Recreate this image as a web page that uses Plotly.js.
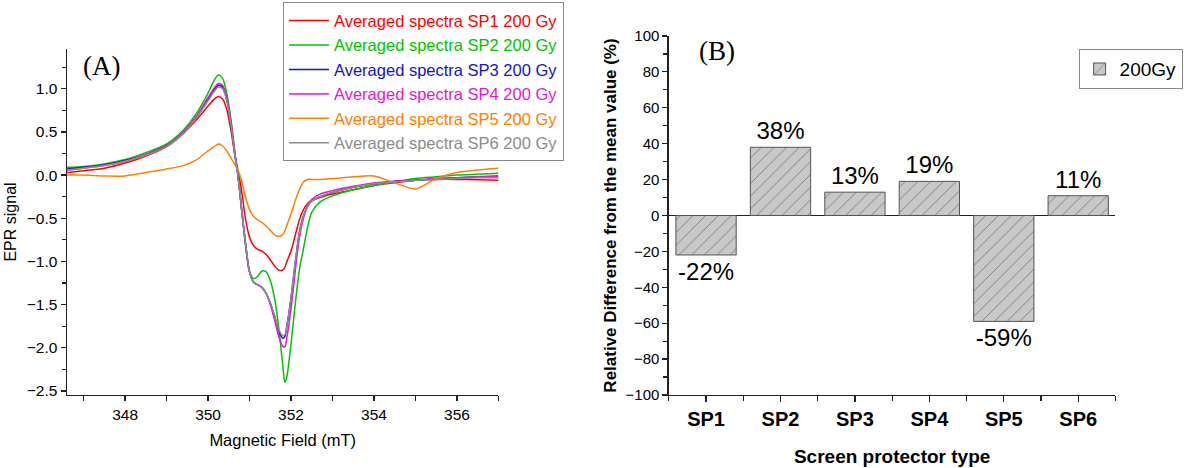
<!DOCTYPE html>
<html>
<head>
<meta charset="utf-8">
<script src="https://cdn.plot.ly/plotly-3.0.1.min.js"></script>
<style>html,body{margin:0;padding:0;background:#fff;}#chart{width:1184px;height:468px;}</style>
</head>
<body>
<div id="chart"></div>
<script>
// ---- Panel A data: EPR spectra (magnetic field in mT) ----
const field = [346.6, 347.0, 347.5, 348.0, 348.5, 349.0, 349.4, 349.7, 350.0, 350.15, 350.25, 350.35, 350.45, 350.55, 350.65, 350.72, 350.8, 350.9, 351.0, 351.1, 351.2, 351.3, 351.4, 351.5, 351.6, 351.7, 351.8, 351.85, 351.9, 352.0, 352.1, 352.2, 352.3, 352.4, 352.5, 352.7, 353.0, 353.5, 354.0, 354.5, 355.0, 355.5, 356.0, 356.5, 357.0];
const sp1 = [0.03,0.05,0.08,0.14,0.22,0.33,0.48,0.63,0.8,0.88,0.91,0.88,0.76,0.52,0.22,0.05,-0.15,-0.5,-0.72,-0.82,-0.86,-0.88,-0.92,-0.98,-1.05,-1.1,-1.1,-1.07,-1.0,-0.88,-0.7,-0.52,-0.4,-0.33,-0.29,-0.26,-0.22,-0.17,-0.12,-0.09,-0.06,-0.05,-0.05,-0.055,-0.06];
const sp2 = [0.09,0.1,0.13,0.18,0.26,0.36,0.52,0.7,0.95,1.1,1.16,1.12,0.95,0.65,0.25,0.0,-0.37,-0.8,-1.12,-1.2,-1.17,-1.11,-1.12,-1.22,-1.42,-1.75,-2.2,-2.4,-2.33,-1.95,-1.5,-1.1,-0.85,-0.6,-0.43,-0.31,-0.24,-0.17,-0.12,-0.08,-0.04,-0.02,0.0,0.01,0.02];
const sp3 = [0.07,0.09,0.12,0.17,0.24,0.34,0.49,0.66,0.88,0.99,1.04,1.02,0.88,0.6,0.22,0.0,-0.35,-0.78,-1.12,-1.24,-1.27,-1.3,-1.37,-1.48,-1.63,-1.8,-1.89,-1.87,-1.75,-1.42,-1.02,-0.67,-0.47,-0.36,-0.3,-0.25,-0.2,-0.14,-0.1,-0.07,-0.06,-0.04,-0.03,-0.02,-0.01];
const sp4 = [0.06,0.08,0.11,0.16,0.24,0.34,0.5,0.67,0.9,1.01,1.06,1.04,0.9,0.62,0.24,0.0,-0.35,-0.78,-1.12,-1.24,-1.27,-1.3,-1.37,-1.5,-1.67,-1.86,-1.98,-1.99,-1.88,-1.55,-1.12,-0.73,-0.5,-0.36,-0.28,-0.22,-0.18,-0.13,-0.09,-0.07,-0.06,-0.04,-0.03,-0.02,-0.02];
const sp5 = [0.0,0.0,-0.01,-0.01,0.03,0.07,0.11,0.17,0.28,0.33,0.36,0.34,0.28,0.2,0.12,0.06,-0.05,-0.25,-0.4,-0.48,-0.52,-0.55,-0.59,-0.64,-0.69,-0.71,-0.69,-0.65,-0.58,-0.45,-0.3,-0.17,-0.08,-0.05,-0.05,-0.05,-0.04,-0.02,-0.01,-0.09,-0.16,-0.04,0.03,0.06,0.08];
const sp6 = [0.06,0.08,0.11,0.16,0.23,0.33,0.48,0.65,0.86,0.97,1.02,1.0,0.86,0.59,0.22,0.0,-0.35,-0.78,-1.12,-1.24,-1.27,-1.3,-1.37,-1.48,-1.62,-1.78,-1.86,-1.85,-1.74,-1.42,-1.02,-0.67,-0.47,-0.36,-0.3,-0.25,-0.2,-0.14,-0.1,-0.08,-0.06,-0.05,-0.04,-0.03,-0.03];
const seriesNames = ['Averaged spectra SP1 200 Gy','Averaged spectra SP2 200 Gy','Averaged spectra SP3 200 Gy','Averaged spectra SP4 200 Gy','Averaged spectra SP5 200 Gy','Averaged spectra SP6 200 Gy'];
const seriesColors = ['#ff0000','#00c400','#1414c8','#e01ad0','#ff8000','#8c8c8c'];

// ---- Panel B data: relative difference from mean (%) ----
const protectors = ['SP1','SP2','SP3','SP4','SP5','SP6'];
const relDiff = [-22, 38, 13, 19, -59, 11];
const barLabels = relDiff.map(v => v + '%');

const FONT = 'Liberation Sans, Arial, sans-serif';
const spectra = [sp1, sp2, sp3, sp4, sp5, sp6];
const traces = spectra.map((ys, i) => ({
  type: 'scatter', mode: 'lines', x: field, y: ys,
  xaxis: 'x', yaxis: 'y',
  name: '<span style="color:' + seriesColors[i] + '">' + seriesNames[i] + '</span>',
  line: {color: seriesColors[i], width: 1.5, shape: 'spline', smoothing: 0.8},
  hoverinfo: 'skip'
}));

traces.push({
  type: 'bar', x: protectors, y: relDiff, xaxis: 'x2', yaxis: 'y2',
  name: '200Gy', legend: 'legend2',
  text: barLabels, textposition: 'outside', constraintext: 'none', cliponaxis: false,
  textfont: {family: FONT, size: 24, color: '#000'},
  marker: {color: '#c8c8c8', line: {color: '#555', width: 1},
    pattern: {shape: '/', fgcolor: '#7a7a7a', bgcolor: '#c8c8c8', size: 9, solidity: 0.1, fillmode: 'replace'}},
  hoverinfo: 'skip'
});
// helper trace carrying the categories for the boundary tick axis
traces.push({
  type: 'scatter', mode: 'markers', x: protectors, y: protectors.map(() => null),
  xaxis: 'x3', yaxis: 'y2', showlegend: false, hoverinfo: 'skip'
});

const axisCommon = {showline: true, linecolor: '#222', linewidth: 1.5, ticks: 'outside', ticklen: 5, tickwidth: 1.2, tickcolor: '#222', showgrid: false, zeroline: false};

const layout = {
  width: 1184, height: 468,
  margin: {l: 0, r: 0, t: 0, b: 0},
  paper_bgcolor: '#fff', plot_bgcolor: '#fff',
  font: {family: FONT, size: 15, color: '#000'},
  showlegend: true,
  bargap: 0.19,
  xaxis: Object.assign({}, axisCommon, {
    domain: [0.0566, 0.421], anchor: 'y', range: [346.6, 357],
    tick0: 348, dtick: 2,
    minor: {tick0: 347, dtick: 1, ticks: 'outside', ticklen: 5, tickcolor: '#222'},
    tickfont: {size: 15.5},
    title: {text: 'Magnetic Field (mT)', font: {size: 16.5}, standoff: 12}
  }),
  yaxis: Object.assign({}, axisCommon, {
    domain: [0.156, 0.8953], anchor: 'x', range: [-2.546, 1.46],
    tick0: 0, dtick: 0.5, tickformat: '.1f',
    minor: {tick0: 0, dtick: 0.25, ticks: 'outside', ticklen: 4, tickcolor: '#222'},
    tickfont: {size: 15.5},
    title: {text: 'EPR signal', font: {size: 16}, standoff: 6}
  }),
  xaxis2: Object.assign({}, axisCommon, {
    domain: [0.5649, 0.9421], anchor: 'y2', type: 'category', range: [-0.5, 5.5],
    ticklen: 6,
    tickfont: {size: 20, weight: 700},
    title: {text: 'Screen protector type', font: {size: 19, weight: 700}, standoff: 20}
  }),
  xaxis3: {
    overlaying: 'x2', anchor: 'y2', type: 'category', categoryorder: 'array', categoryarray: protectors,
    range: [-0.5, 5.5], tickson: 'boundaries', ticks: 'outside', ticklen: 5, tickwidth: 1.2, tickcolor: '#222',
    showticklabels: false, showline: false, showgrid: false, zeroline: false, side: 'bottom'
  },
  yaxis2: Object.assign({}, axisCommon, {
    domain: [0.156, 0.9231], anchor: 'x2', range: [-100, 100],
    tick0: 0, dtick: 20,
    minor: {tick0: 0, dtick: 10, ticks: 'outside', ticklen: 4, tickcolor: '#222'},
    zeroline: true, zerolinecolor: '#222', zerolinewidth: 1.5,
    tickfont: {size: 15},
    title: {text: 'Relative Difference from the mean value (%)', font: {size: 17, weight: 700}, standoff: 4}
  }),
  legend: {
    x: 0.239, y: 0.995, xanchor: 'left', yanchor: 'top',
    bgcolor: '#fff', bordercolor: '#888', borderwidth: 1,
    font: {family: FONT, size: 16.5}, itemwidth: 40, tracegroupgap: 0
  },
  legend2: {
    x: 0.911, y: 0.895, xanchor: 'left', yanchor: 'top',
    bgcolor: '#fff', bordercolor: '#888', borderwidth: 1,
    font: {family: FONT, size: 19}, itemwidth: 30
  },
  annotations: [
    {text: '(A)', xref: 'paper', yref: 'paper', x: 0.0861, y: 0.859, xanchor: 'center', yanchor: 'middle', showarrow: false,
     font: {family: 'Liberation Serif, Times New Roman, serif', size: 27, color: '#000'}},
    {text: '(B)', xref: 'paper', yref: 'paper', x: 0.6056, y: 0.891, xanchor: 'center', yanchor: 'middle', showarrow: false,
     font: {family: 'Liberation Serif, Times New Roman, serif', size: 27, color: '#000'}}
  ]
};

Plotly.newPlot('chart', traces, layout, {displayModeBar: false, staticPlot: true});
</script>
</body>
</html>
